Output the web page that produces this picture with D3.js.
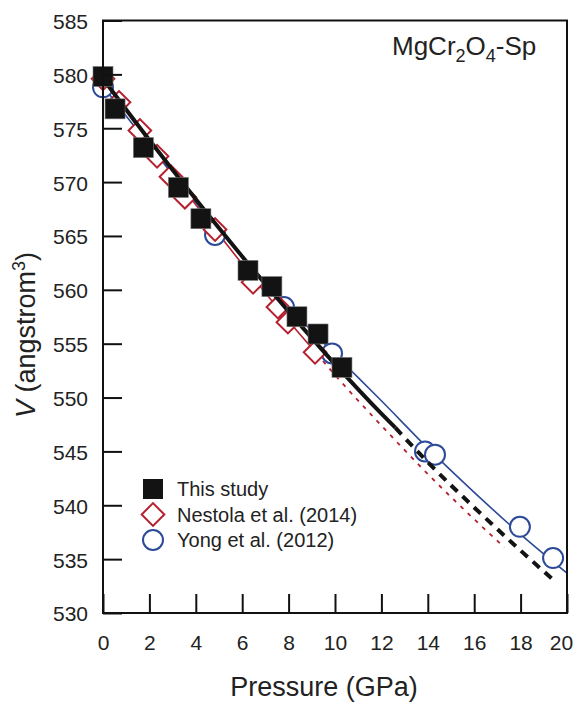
<!DOCTYPE html>
<html>
<head>
<meta charset="utf-8">
<script src="https://cdn.jsdelivr.net/npm/d3@7"></script>
<style>
  body { margin: 0; background: #fff; }
  svg { font-family: "Liberation Sans", Arial, sans-serif; }
</style>
</head>
<body>
<div id="chart"></div>
<script>
// Data
const studyP = [0.0, 0.52, 1.74, 3.25, 4.22, 6.25, 7.28, 8.36, 9.27, 10.3];
const studyV = [579.8, 576.8, 573.2, 569.5, 566.6, 561.8, 560.3, 557.5, 555.9, 552.8];

const nestolaP = [0.0, 0.69, 1.59, 2.33, 2.93, 3.53, 4.83, 6.47, 7.54, 7.97, 9.14];
const nestolaV = [579.6, 577.4, 574.8, 572.4, 570.5, 568.6, 565.6, 560.7, 558.4, 557.0, 554.2];

const yongP = [0.0, 4.83, 7.8, 9.87, 13.88, 14.31, 17.97, 19.4];
const yongV = [578.8, 565.1, 558.4, 554.1, 545.0, 544.7, 538.0, 535.1];

// fitted curves
const fitStudyP = [0, 2, 4, 6, 8, 10, 12, 12.6, 14, 16, 18, 19.5];
const fitStudyV = [579.6, 573.9, 568.4, 563.1, 558.0, 553.1, 548.5, 547.2, 544.0, 539.8, 535.8, 532.9];
const studySolidMax = 12.6;

const fitNestolaP = [0, 2, 4, 6, 8, 9.2, 10, 12, 14, 16, 17.3];
const fitNestolaV = [579.6, 573.6, 567.9, 562.4, 557.1, 554.1, 552.1, 547.4, 542.9, 538.7, 536.1];
const nestolaSolidMax = 9.2;

const fitYongP = [0, 2, 4, 6, 8, 10, 12, 14, 16, 18, 20];
const fitYongV = [578.9, 573.4, 568.1, 563.1, 558.4, 554.0, 549.7, 545.3, 541.2, 537.3, 533.7];

const xTicks = [0, 2, 4, 6, 8, 10, 12, 14, 16, 18, 20];
const yTicks = [530, 535, 540, 545, 550, 555, 560, 565, 570, 575, 580, 585];

const width = 577, height = 702;
const plotLeft = 103, plotRight = 567, plotTop = 20.5, plotBottom = 613;

const red = "#b5202e";
const blue = "#2c4a98";
const black = "#131313";

const x = d3.scaleLinear().domain([0, 20]).range([plotLeft, plotRight]);
const y = d3.scaleLinear().domain([530, 585]).range([plotBottom, plotTop]);

const svg = d3.select("#chart").append("svg")
  .attr("width", width)
  .attr("height", height);

const toPts = (P, V) => P.map((p, i) => ({ p: p, v: V[i] }));
const line = d3.line().x(d => x(d.p)).y(d => y(d.v)).curve(d3.curveMonotoneX);

// split a fit into solid part and extrapolated part
function split(P, V, maxP) {
  const pts = toPts(P, V);
  return [pts.filter(d => d.p <= maxP), pts.filter(d => d.p >= maxP)];
}

const [nesSolid, nesDash] = split(fitNestolaP, fitNestolaV, nestolaSolidMax);
svg.append("path").attr("d", line(nesSolid))
  .attr("fill", "none").attr("stroke", red).attr("stroke-width", 1.6);
svg.append("path").attr("d", line(nesDash))
  .attr("fill", "none").attr("stroke", red).attr("stroke-width", 1.8)
  .attr("stroke-dasharray", "4,6");

svg.append("path").attr("d", line(toPts(fitYongP, fitYongV)))
  .attr("fill", "none").attr("stroke", blue).attr("stroke-width", 1.6);

// Yong et al. circles
svg.append("g").selectAll("circle")
  .data(toPts(yongP, yongV))
  .enter().append("circle")
  .attr("cx", d => x(d.p)).attr("cy", d => y(d.v)).attr("r", 10)
  .attr("fill", "#fff").attr("stroke", blue).attr("stroke-width", 2);

// Nestola et al. diamonds
const dia = d3.symbol().type(d3.symbolSquare).size(256);
svg.append("g").selectAll("path")
  .data(toPts(nestolaP, nestolaV))
  .enter().append("path")
  .attr("d", dia)
  .attr("transform", d => `translate(${x(d.p)},${y(d.v)}) rotate(45)`)
  .attr("fill", "#fff").attr("stroke", red).attr("stroke-width", 2);

// this study fit
const [stSolid, stDash] = split(fitStudyP, fitStudyV, studySolidMax);
svg.append("path").attr("d", line(stSolid))
  .attr("fill", "none").attr("stroke", black).attr("stroke-width", 4);
svg.append("path").attr("d", line(stDash))
  .attr("fill", "none").attr("stroke", black).attr("stroke-width", 4)
  .attr("stroke-dasharray", "9,7");

// this study squares
svg.append("g").selectAll("rect")
  .data(toPts(studyP, studyV))
  .enter().append("rect")
  .attr("x", d => x(d.p) - 10).attr("y", d => y(d.v) - 10)
  .attr("width", 20).attr("height", 20)
  .attr("fill", black).attr("stroke", "#777").attr("stroke-width", 0.6);

// axes
const xAxis = svg.append("g")
  .attr("transform", `translate(0,${plotBottom})`)
  .call(d3.axisBottom(x).tickValues(xTicks).tickSize(-19).tickPadding(22));
const yAxis = svg.append("g")
  .attr("transform", `translate(${plotLeft},0)`)
  .call(d3.axisLeft(y).tickValues(yTicks).tickSize(-19).tickPadding(15));

[xAxis, yAxis].forEach(a => {
  a.select(".domain").remove();
  a.selectAll(".tick line").attr("stroke", "#111").attr("stroke-width", 2);
  a.selectAll(".tick text").attr("font-size", 21).attr("fill", "#222")
    .attr("font-family", "Liberation Sans, Arial, sans-serif");
});
yAxis.selectAll(".tick text").attr("dy", "0.38em");
// last x label is pulled in so it stays inside the page
xAxis.selectAll(".tick text").filter(d => d === 20).attr("dx", -6);

// frame
svg.append("rect")
  .attr("x", plotLeft).attr("y", plotTop)
  .attr("width", plotRight - plotLeft).attr("height", plotBottom - plotTop)
  .attr("fill", "none").attr("stroke", "#111").attr("stroke-width", 2);

// axis titles
svg.append("text")
  .attr("x", 324).attr("y", 696)
  .attr("text-anchor", "middle").attr("font-size", 27).attr("fill", "#222")
  .text("Pressure (GPa)");

const yt = svg.append("text")
  .attr("transform", "translate(35,418) rotate(-90)")
  .attr("text-anchor", "start").attr("font-size", 27).attr("fill", "#222");
yt.append("tspan").attr("font-style", "italic").text("V");
yt.append("tspan").text(" (angstrom");
yt.append("tspan").attr("font-size", 18).attr("dy", -10).text("3");
yt.append("tspan").attr("dy", 10).text(")");

// label
const tl = svg.append("text")
  .attr("x", 392).attr("y", 55)
  .attr("font-size", 26).attr("fill", "#222");
tl.append("tspan").text("MgCr");
tl.append("tspan").attr("font-size", 18).attr("dy", 7).text("2");
tl.append("tspan").attr("dy", -7).text("O");
tl.append("tspan").attr("font-size", 18).attr("dy", 7).text("4");
tl.append("tspan").attr("dy", -7).text("-Sp");

// legend
const legendItems = ["This study", "Nestola et al. (2014)", "Yong et al. (2012)"];
const lg = svg.append("g").attr("transform", "translate(153,489)");
const rowH = 25.5;
lg.append("rect").attr("x", -10).attr("y", -10).attr("width", 20).attr("height", 20)
  .attr("fill", black);
lg.append("path").attr("d", dia)
  .attr("transform", `translate(0,${rowH}) rotate(45)`)
  .attr("fill", "#fff").attr("stroke", red).attr("stroke-width", 2);
lg.append("circle").attr("cx", 0).attr("cy", 2 * rowH).attr("r", 10)
  .attr("fill", "#fff").attr("stroke", blue).attr("stroke-width", 2);
lg.selectAll("text.lab")
  .data(legendItems)
  .enter().append("text").attr("class", "lab")
  .attr("x", 24).attr("y", (d, i) => i * rowH)
  .attr("dy", "0.36em").attr("font-size", 20).attr("fill", "#222")
  .text(d => d);
</script>
</body>
</html>
